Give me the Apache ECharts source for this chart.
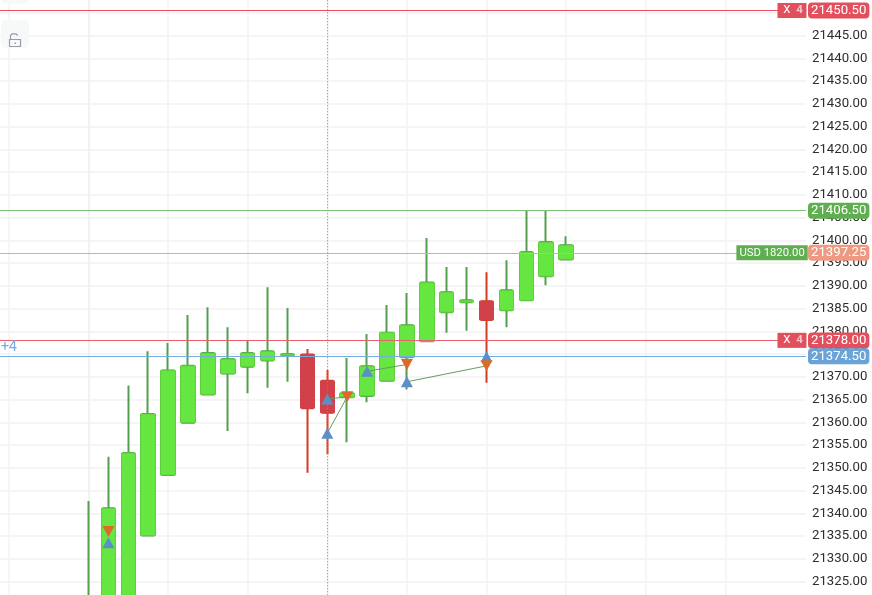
<!DOCTYPE html>
<html>
<head>
<meta charset="utf-8">
<style>html,body{margin:0;padding:0;background:#fff}#c{width:872px;height:595px}</style>
<script src="https://cdn.jsdelivr.net/npm/echarts@6/dist/echarts.min.js"></script>
</head>
<body>
<div id="c"></div>
<script>
const candleIndex = [0,1,2,3,4,5,6,7,8,9,10,11,12,13,14,15,16,17,18,19,20,21,22,23,24];
const opens  = [21310,21316,21316,21335.1,21348.4,21359.9,21366.1,21370.7,21372.2,21373.6,21374.7,21374.9,21369.1,21365.5,21365.8,21369.1,21374.3,21377.8,21384.2,21386.4,21386.6,21384.6,21386.8,21392.1,21395.8];
const closes = [21318,21341.1,21353.25,21361.8,21371.4,21372.4,21375.2,21373.9,21375.2,21375.6,21375,21363.1,21362.1,21366.4,21372.3,21379.7,21381.3,21390.7,21388.6,21386.8,21382.5,21389,21397.4,21399.6,21398.9];
const lows   = [21305,21310,21312,21335.1,21348.4,21359.9,21366.1,21358.1,21366.4,21367.6,21368.9,21348.9,21353,21355.6,21364.4,21369.1,21367.2,21377.8,21379.7,21380.1,21368.7,21380.9,21386.8,21390.1,21395.8];
const highs  = [21342.7,21352.4,21368.1,21375.6,21377.4,21383.6,21385.3,21380.9,21378.1,21389.7,21385.1,21376.1,21371.5,21374.1,21379.4,21385.8,21388.4,21400.5,21394.1,21394.1,21393,21395.6,21406.5,21406.5,21400.9];
const priceTicks = [21320,21325,21330,21335,21340,21345,21350,21355,21360,21365,21370,21375,21380,21385,21390,21395,21400,21405,21410,21415,21420,21425,21430,21435,21440,21445,21450];
const timeGridIndex = [-4,0,4,8,12,16,20,24,28,32];
const buyIndex = [1,12,12,14,16,20];
const buyPrice = [21333.5,21365.1,21357.6,21371.2,21368.9,21374.4];
const sellIndex = [1,13,16,20];
const sellPrice = [21336,21365.6,21372.7,21372.4];
const tradeFromIndex = [12,12,14,16];
const tradeFromPrice = [21357.6,21365.1,21371.2,21368.9];
const tradeToIndex = [13,13,16,20];
const tradeToPrice = [21365.6,21365.6,21372.7,21372.4];
const linePrices = [21450.5,21406.5,21397.25,21378,21374.5];
const lineColors = ['#e9505f','#7cc278','#f3a08c','#e9606c','#75ace0'];
const tagColors = ['#e2505e','#5fae4f','#ee9a82','#e2505e','#6aa3d8'];
const closeTagPrices = [21450.5,21378];
const closeTagText = 'X';
const closeTagQty = '4';
const pnlPrice = 21397.25;
const pnlText = 'USD 1820.00';
const crosshairIndex = 12;

const UP='#66e640',UPB='#5fcf3e',UPW='#539f4e',DN='#d2414a',DNB='#d2414a',DNW='#d63b25';
const full = candleIndex.map((x,i)=>[x,opens[i],closes[i],lows[i],highs[i]]);
const bodies = candleIndex.map((x,i)=>[x,opens[i],closes[i],Math.min(opens[i],closes[i]),Math.max(opens[i],closes[i])]);
const fontF='Roboto, sans-serif';

const tradeLines = tradeFromIndex.map((x,i)=>({
  type:'line',silent:true,symbol:'none',z:6,animation:false,
  lineStyle:{color:'#5f9f5f',width:1},
  data:[[x,tradeFromPrice[i]],[tradeToIndex[i],tradeToPrice[i]]]
}));

const levelSeries = linePrices.map((p,i)=>({
  type:'line',name:'level'+i,silent:true,data:[],z:8,color:lineColors[i],
  markLine:{silent:true,symbol:'none',animation:false,precision:2,
    lineStyle:{color:lineColors[i],width:1,type:'solid',opacity:1},
    emphasis:{disabled:true},
    label:{show:true,position:'end',distance:2,formatter:p.toFixed(2),
      padding:[1,3,0,3],color:'#fff',fontFamily:fontF,fontSize:13.2,lineHeight:15,
      backgroundColor:tagColors[i],borderRadius:4},
    data:[{yAxis:p}]}
}));

const chart = echarts.init(document.getElementById('c'),null,{renderer:'canvas'});
chart.setOption({
  animation:false,
  backgroundColor:'#fff',
  grid:{left:0,width:806,top:-9.975,height:614.25,containLabel:false,outerBoundsMode:'none'},
  xAxis:{type:'value',min:-4.447,max:36.055,
    axisLine:{show:false},axisLabel:{show:false},
    axisTick:{show:false,customValues:timeGridIndex},
    splitLine:{show:true,lineStyle:{color:'#f3f3f5',width:1.5}}},
  yAxis:{type:'value',position:'right',min:21320,max:21455,interval:5,
    axisLine:{show:true,lineStyle:{color:'#f0f0f2',width:1.5}},
    axisTick:{show:false},
    axisLabel:{margin:6,color:'#2e2e2e',fontFamily:fontF,fontSize:13.2,
      customValues:priceTicks,formatter:v=>v.toFixed(2)},
    splitLine:{show:true,lineStyle:{color:'#f2f2f3',width:1.5}}},
  graphic:[
    {type:'rect',shape:{x:1,y:-20,width:28,height:24,r:5},style:{fill:'#f7f9f9'},z:1},
    {type:'rect',shape:{x:1,y:20,width:28,height:28,r:5},style:{fill:'#f7f9f9'},z:1},
    {type:'rect',shape:{x:9.5,y:39.5,width:11,height:7},style:{fill:'none',stroke:'#9a9aa8',lineWidth:1.2},z:1},
    {type:'polyline',shape:{points:[[10.5,39],[10.5,35.5],[12,33.8],[16,33.8],[17.8,35.5]]},style:{fill:'none',stroke:'#9a9aa8',lineWidth:1.2},z:1},
    {type:'rect',shape:{x:14.5,y:42.5,width:1.5,height:1.5},style:{fill:'#9a9aa8'},z:1},
    {type:'text',x:1,y:340,style:{text:'+4',fill:'#7aa9dc',font:'14px Roboto, sans-serif'},z:10}
  ],
  series:[
    {type:'candlestick',name:'wicks',silent:true,barWidth:11,z:3,
      encode:{x:0,y:[1,2,3,4]},
      itemStyle:{color:UP,color0:DN,borderColor:UPW,borderColor0:DNW,borderWidth:2,borderColorDoji:UPW},
      data:full},
    {type:'candlestick',name:'bodies',silent:true,barWidth:15,z:4,
      encode:{x:0,y:[1,2,3,4]},
      itemStyle:{color:UP,color0:DN,borderColor:UPB,borderColor0:DNB,borderWidth:1,borderColorDoji:UPB},
      data:bodies},
    {type:'line',name:'crosshair',silent:true,data:[],z:5,
      markLine:{silent:true,symbol:'none',animation:false,label:{show:false},
        lineStyle:{color:'#8a8a8a',width:1,type:[1,2]},
        data:[{xAxis:crosshairIndex}]}},
    ...tradeLines,
    {type:'scatter',name:'buy',silent:true,symbol:'triangle',symbolSize:[12,11],z:7,
      itemStyle:{color:'#5b8fc7',opacity:1},
      data:buyIndex.map((x,i)=>[x,buyPrice[i]])},
    {type:'scatter',name:'sell',silent:true,symbol:'triangle',symbolRotate:180,symbolSize:[12,11],z:7,
      itemStyle:{color:'#dc6b2a',opacity:1},
      data:sellIndex.map((x,i)=>[x,sellPrice[i]])},
    ...levelSeries,
    {type:'line',name:'tags',silent:true,data:[],z:9,
      markPoint:{silent:true,symbol:'rect',symbolSize:0,animation:false,
        data:[
          ...closeTagPrices.map(p=>({
            coord:[35.35,p],
            label:{show:true,position:'inside',
              formatter:'{a|'+closeTagText+'}{b|'+closeTagQty+'}',
              backgroundColor:'#e2505e',padding:[1,2,1,2],
              rich:{a:{color:'#fff',fontFamily:fontF,fontSize:11.5,lineHeight:13,width:15,align:'center'},
                    b:{color:'#f3c4c8',fontFamily:fontF,fontSize:11.5,lineHeight:13,fontWeight:'bold',width:10,align:'center'}}}
          })),
          {coord:[34.35,pnlPrice],
            label:{show:true,position:'inside',formatter:pnlText,
              backgroundColor:'#5fae4f',padding:[1,3,1,3],lineHeight:13,
              color:'#fff',fontFamily:fontF,fontSize:11.3}}
        ]}}
  ]
});
</script>
</body>
</html>
